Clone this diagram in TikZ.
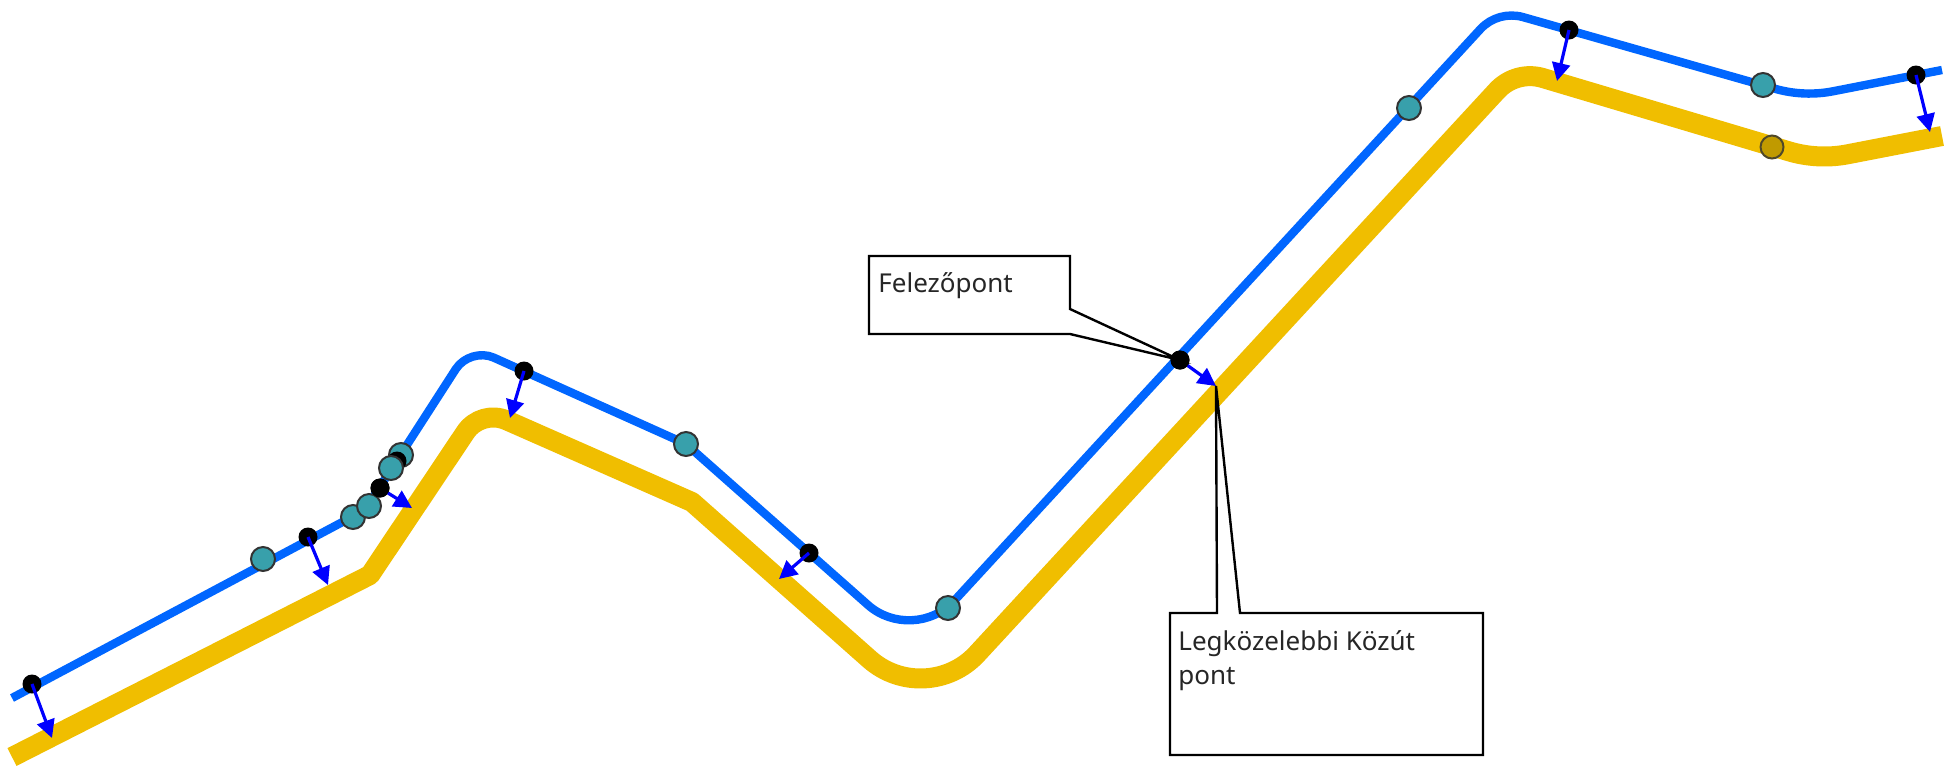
\documentclass[tikz,border=0pt]{standalone}
\usepackage{fontspec}
\setmainfont{Noto Sans}
\usetikzlibrary{arrows.meta}
\definecolor{roadY}{HTML}{F0BE00}
\definecolor{routeB}{HTML}{0066FF}
\definecolor{tealD}{HTML}{38A0AB}
\definecolor{oliveD}{HTML}{C09A00}
\definecolor{arrB}{HTML}{0000FF}
\definecolor{rimD}{HTML}{333333}
\begin{document}
\begin{tikzpicture}[x=0.5pt,y=-0.5pt,
  road/.style={draw=roadY,line width=10pt,line join=round},
  route/.style={draw=routeB,line width=4.2pt,line join=round},
  bdot/.style={circle,fill=black,inner sep=0pt,minimum size=9.5pt},
  tdot/.style={circle,fill=tealD,draw=rimD,line width=1pt,inner sep=0pt,minimum size=12pt},
  odot/.style={circle,fill=oliveD,draw=rimD!80!oliveD,line width=1pt,inner sep=0pt,minimum size=11.5pt},
  proj/.style={draw=arrB,line width=1.6pt,-{Triangle[length=9pt,width=9pt]}},
  callout/.style={draw=black,line width=1.2pt,fill=white,line join=miter},
  calltext/.style={font=\fontsize{13pt}{17pt}\selectfont,inner sep=0pt,text=black!85}
]
\useasboundingbox (0,0) rectangle (1948,773);

% road (yellow)
\draw[road] (12,757) -- (370,575) -- (465.4,432.3)
  .. controls (474.4,418.8) and (491.8,413.8) .. (506.6,420.3)
  -- (692,502) -- (869.7,659.4)
  .. controls (900.8,686.8) and (948.8,684.4) .. (976.9,654)
  -- (1497,90.6) .. controls (1508.6,78.0) and (1526.4,73.1) .. (1542.8,78)
  -- (1789.2,151.4) .. controls (1808.1,157.0) and (1828.2,158.0) .. (1847.5,154.3)
  -- (1942,136);

% route (blue)
\draw[route] (12,698) -- (365,510) -- (455.9,368.9)
  .. controls (463.7,356.9) and (480.7,351.8) .. (493.7,357.6)
  -- (686,444) -- (868,605)
  .. controls (892.7,626.9) and (931.5,625) .. (954,601)
  -- (1480.4,29.1) .. controls (1491.2,17.4) and (1507.7,12.8) .. (1523,17.1)
  -- (1775.1,88.8) .. controls (1794.1,94.2) and (1814.1,95.0) .. (1833.4,91.2)
  -- (1942,70);

% black points (midpoints)
\node[bdot] (d1) at (32,684) {};
\node[bdot] (d2) at (308,537) {};
\node[bdot] (d3) at (380,488) {};
\node[bdot] (d5) at (524,371) {};
\node[bdot] (d6) at (809,553) {};
\node[bdot] (d7) at (1180,360) {};
\node[bdot] (d8) at (1569,30) {};
\node[bdot] (d9) at (1916,75) {};

% projection tips
\coordinate (t1) at (52,738);
\coordinate (t2) at (328,585);
\coordinate (t3) at (412,508);
\coordinate (t5) at (510,418);
\coordinate (t6) at (779,579);
\coordinate (t7) at (1216,386);
\coordinate (t8) at (1557,81);
\coordinate (t9) at (1930,132);

\draw[proj] (d1.center) -- (t1);
\draw[proj] (d2.center) -- (t2);
\draw[proj] (d3.center) -- (t3);
\draw[proj] (d5.center) -- (t5);
\draw[proj] (d6.center) -- (t6);
\draw[proj] (d7.center) -- (t7);
\draw[proj] (d8.center) -- (t8);
\draw[proj] (d9.center) -- (t9);

% teal points
\node[tdot] (s1) at (263,559) {};
\node[tdot] (s2) at (353,517) {};
\node[tdot] (s3) at (369,506) {};
\node[tdot] (s5) at (401,455) {};
\node[bdot] (d4) at (397,461) {};
\node[tdot] (s4) at (391,468) {};
\node[bdot] (d3b) at (380,488) {};
\node[tdot] (s6) at (686,444) {};
\node[tdot] (s7) at (948,608) {};
\node[tdot] (s8) at (1409,108) {};
\node[tdot] (s9) at (1763,85) {};
\node[odot] (o1) at (1772,147) {};

% callout 1
\draw[callout] (869,256) -- (1070,256) -- (1070,309) -- (d7.center) -- (1070,334) -- (869,334) -- cycle;
\node[calltext,anchor=base west] (lab1) at (878,292) {Felezőpont};

% callout 2
\draw[callout] (1170,613) -- (1217,613) -- (t7) -- (1240,613) -- (1483,613) -- (1483,755) -- (1170,755) -- cycle;
\node[calltext,anchor=base west] (lab2a) at (1178,650) {Legközelebbi Közút};
\node[calltext,anchor=base west] (lab2b) at (1178,684) {pont};

% the callout-1 point on top
\node[bdot] (d7top) at (d7) {};
\end{tikzpicture}
\end{document}
